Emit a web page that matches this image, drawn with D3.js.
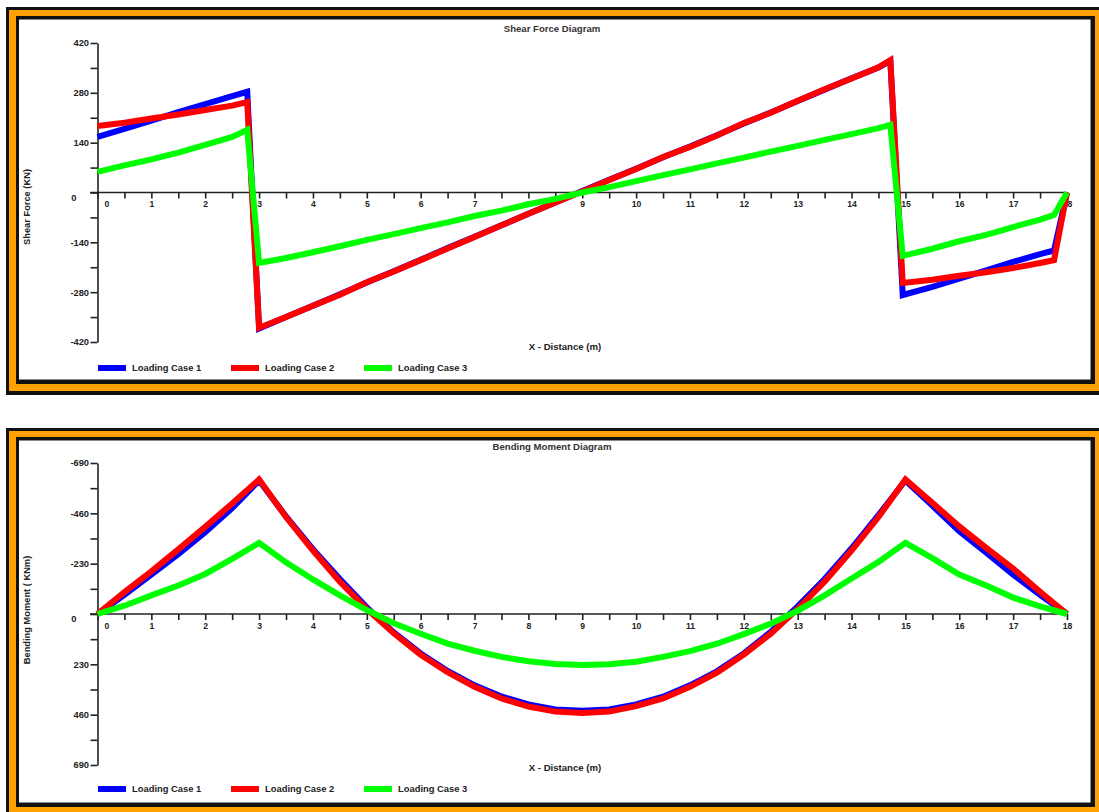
<!DOCTYPE html>
<html><head><meta charset="utf-8">
<script src="https://cdn.jsdelivr.net/npm/d3@7"></script>
<style>
body{margin:0;background:#fff}
svg{display:block}
text{font-family:"Liberation Sans",Arial,sans-serif;font-weight:bold;fill:#222}
</style>
</head><body>
<svg id="c" width="1099" height="812"></svg>
<script>
// ---------- Shear force data ----------
const shearX = [0, 0.5, 1, 1.5, 2, 2.5, 2.78, 3.0,
  3.5, 4, 4.5, 5, 5.5, 6, 6.5, 7, 7.5, 8, 8.5, 9, 9.5, 10, 10.5, 11, 11.5, 12, 12.5, 13, 13.5, 14, 14.5,
  14.72, 14.95, 15.5, 16, 16.5, 17, 17.5, 17.76, 18];
const shearCase1 = [156, 179, 202, 226, 248, 271, 283, -382,
  -350, -318, -286, -253, -221, -189, -156, -124, -92, -60, -28, 4, 36, 67, 99, 129, 161, 194, 225, 257, 289, 321, 351,
  370, -288, -265, -242, -219, -195, -173, -163, 0];
const shearCase2 = [187, 196, 208, 219, 232, 244, 254, -380,
  -350, -318, -287, -252, -222, -190, -157, -125, -92, -60, -28, 3, 35, 66, 100, 128, 160, 195, 224, 258, 290, 320, 352,
  372, -254, -245, -234, -224, -212, -198, -190, 0];
const shearCase3 = [58, 76, 93, 112, 134, 156, 176, -198,
  -184, -168, -151, -133, -117, -100, -84, -66, -51, -33, -18, 0, 15, 32, 49, 65, 82, 98, 115, 131, 148, 164, 181,
  190, -178, -158, -137, -119, -97, -76, -63, 0];
const shearMajorTicks = [-420, -280, -140, 0, 140, 280, 420];
const shearMinorTicks = [-350, -210, -70, 70, 210, 350];

// ---------- Bending moment data ----------
const momentX = [0, 0.5, 1, 1.5, 2, 2.5, 3, 3.5, 4, 4.5, 5, 5.5, 6, 6.5, 7, 7.5, 8, 8.5, 9,
  9.5, 10, 10.5, 11, 11.5, 12, 12.5, 13, 13.5, 14, 14.5, 15, 15.5, 16, 16.5, 17, 17.5, 18];
const momentCase1 = [0, -88, -180, -274, -374, -484, -610, -446, -296, -160, -30, 84, 180, 260, 326, 377, 413, 436, 442,
  436, 413, 378, 326, 262, 180, 82, -35, -160, -300, -452, -610, -495, -378, -280, -180, -88, 0];
const momentCase2 = [0, -100, -195, -295, -398, -505, -615, -443, -290, -148, -22, 88, 186, 266, 333, 386, 423, 446, 452,
  446, 421, 386, 333, 268, 185, 90, -24, -148, -290, -443, -615, -508, -400, -302, -208, -102, 0];
const momentCase3 = [0, -38, -85, -130, -183, -252, -325, -236, -158, -85, -18, 42, 90, 135, 168, 196, 216, 228, 233,
  230, 218, 196, 170, 136, 92, 44, -15, -85, -162, -238, -325, -255, -180, -130, -75, -35, 0];
const momentMajorTicks = [-690, -460, -230, 0, 230, 460, 690];
const momentMinorTicks = [-575, -345, -115, 115, 345, 575];

const xMajorTicks = d3.range(0, 19);
const xMinorTicks = d3.range(0.5, 18, 1);
const legendLabels = ["Loading Case 1", "Loading Case 2", "Loading Case 3"];
const seriesColors = ["#0000FF", "#FF0000", "#00FF00"];

const svg = d3.select("#c");
const xScale = d3.scaleLinear().domain([0, 18]).range([97.5, 1067]);

function frame(top, bottom) {
  const g = svg.append("g");
  g.append("rect").attr("x", 6).attr("y", top).attr("width", 1100).attr("height", bottom - top).attr("fill", "#111");
  g.append("rect").attr("x", 9).attr("y", top + 3).attr("width", 1100).attr("height", bottom - top - 7).attr("fill", "#FFA200");
  g.append("rect").attr("x", 16).attr("y", top + 9).attr("width", 1079).attr("height", bottom - top - 20).attr("fill", "#111");
  g.append("rect").attr("x", 19).attr("y", top + 12.5).attr("width", 1071.5).attr("height", bottom - top - 28).attr("fill", "#fff");
}

function chart(cfg) {
  const y = d3.scaleLinear().domain(cfg.domain).range(cfg.range);
  const g = svg.append("g");
  const y0 = y(0);

  g.append("text").attr("x", 552).attr("y", cfg.titleY).attr("text-anchor", "middle")
    .attr("font-size", 9.6).style("fill", "#333").text(cfg.title);

  // y axis
  const ya = g.append("g").attr("transform", `translate(${xScale(0)},0)`)
    .call(d3.axisLeft(y).tickValues(cfg.major).tickSize(7).tickSizeOuter(0).tickPadding(1.5).tickFormat(d => String(d)));
  ya.selectAll("text").attr("font-size", 9.3).style("font-family", "'Liberation Sans',Arial,sans-serif").style("font-weight", "bold");
  ya.selectAll(".tick").filter(d => d === 0).select("text").attr("x", -21).attr("dy", "0.32em").attr("y", 5);
  const ym = g.append("g").attr("transform", `translate(${xScale(0)},0)`)
    .call(d3.axisLeft(y).tickValues(cfg.minor).tickSize(7).tickFormat(""));
  ym.select(".domain").remove();
  g.selectAll("path.domain, .tick line").attr("stroke", "#222").attr("stroke-width", 1.6);

  // x axis
  const xa = g.append("g").attr("transform", `translate(0,${y0})`)
    .call(d3.axisBottom(xScale).tickValues(xMajorTicks).tickSize(6).tickPadding(2.5).tickFormat(d => String(d)));
  xa.select(".domain").remove();
  xa.selectAll("text").attr("font-size", 8.6).style("font-family", "'Liberation Sans',Arial,sans-serif").style("font-weight", "bold");
  xa.selectAll(".tick").filter(d => d === 0).select("text").attr("x", 9);
  const xm = g.append("g").attr("transform", `translate(0,${y0})`)
    .call(d3.axisBottom(xScale).tickValues(xMinorTicks).tickSize(6).tickFormat(""));
  xm.select(".domain").remove();
  g.append("line").attr("x1", 90).attr("x2", xScale(18)).attr("y1", y0).attr("y2", y0)
    .attr("stroke", "#222").attr("stroke-width", 1.6);
  g.selectAll(".tick line").attr("stroke", "#222").attr("stroke-width", 1.6);

  // axis titles
  g.append("text").attr("transform", `translate(30,${cfg.yTitleY}) rotate(-90)`).attr("text-anchor", "middle")
    .attr("font-size", 9.3).text(cfg.yTitle);
  g.append("text").attr("x", 565).attr("y", cfg.xTitleY).attr("text-anchor", "middle")
    .attr("font-size", 9.6).text("X - Distance (m)");

  // lines
  const line = d3.line().x((d, i) => xScale(cfg.xs[i])).y(d => y(d));
  cfg.series.forEach((s, k) => {
    g.append("path").datum(s).attr("d", line).attr("fill", "none")
      .attr("stroke", seriesColors[k]).attr("stroke-width", 6)
      .attr("stroke-linejoin", "miter").attr("stroke-miterlimit", 4);
  });

  // legend
  const lg = g.append("g");
  legendLabels.forEach((lab, k) => {
    const lx = 98 + k * 133;
    lg.append("rect").attr("x", lx).attr("y", cfg.legendY - 3).attr("width", 28).attr("height", 6).attr("fill", seriesColors[k]);
    lg.append("text").attr("x", lx + 34).attr("y", cfg.legendY + 3.3).attr("font-size", 9.4).text(lab);
  });
}

frame(7, 395);
frame(428, 818);

chart({
  title: "Shear Force Diagram", titleY: 32,
  domain: [-420, 420], range: [342, 43],
  major: shearMajorTicks, minor: shearMinorTicks,
  yTitle: "Shear Force (KN)", yTitleY: 207,
  xTitleY: 350, legendY: 368,
  xs: shearX, series: [shearCase1, shearCase2, shearCase3]
});

chart({
  title: "Bending Moment Diagram", titleY: 450,
  domain: [-690, 690], range: [463, 765],
  major: momentMajorTicks, minor: momentMinorTicks,
  yTitle: "Bending Moment ( KNm)", yTitleY: 610,
  xTitleY: 771, legendY: 789,
  xs: momentX, series: [momentCase1, momentCase2, momentCase3]
});
</script>
</body></html>
